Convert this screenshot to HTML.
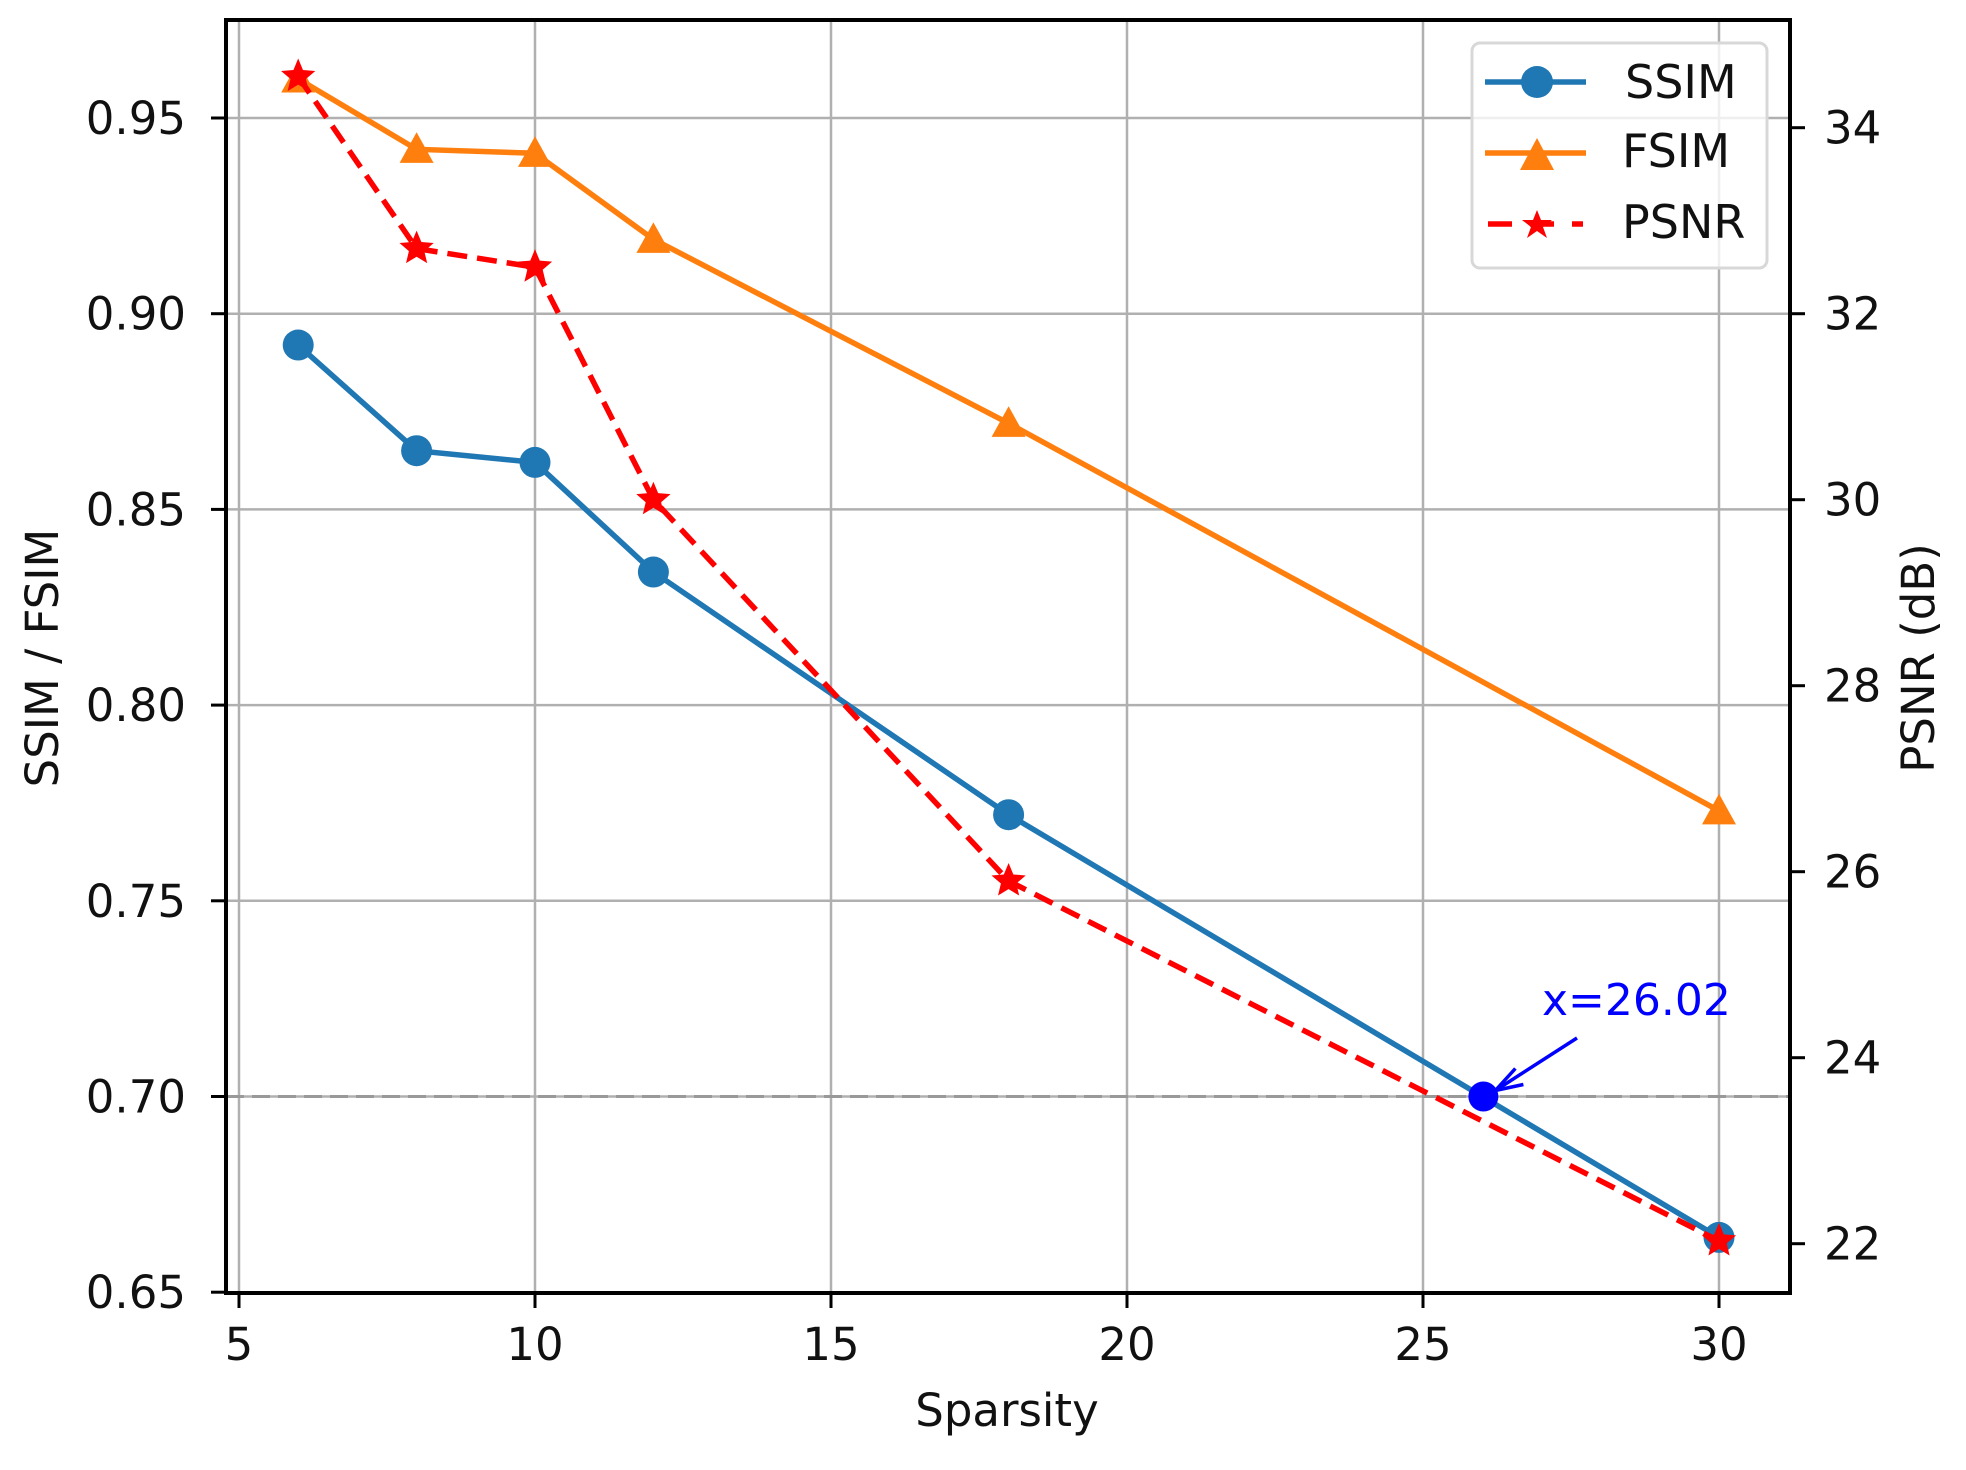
<!DOCTYPE html>
<html><head><meta charset="utf-8">
<style>html,body{margin:0;padding:0;background:#fff}svg{display:block}text{font-family:"DejaVu Sans","Liberation Sans",sans-serif;fill:#111}</style>
</head><body>
<svg id="chart" width="1966" height="1470" viewBox="0 0 1966 1470"></svg>
<script>
const xs = [6, 8, 10, 12, 18, 30];
const ssim = [0.892, 0.865, 0.862, 0.834, 0.772, 0.664];
const fsim = [0.960, 0.942, 0.941, 0.919, 0.872, 0.773];
const psnr = [34.55, 32.7, 32.5, 30.0, 25.9, 22.03];
const xTicks = [5, 10, 15, 20, 25, 30];
const yTicks = [0.65, 0.70, 0.75, 0.80, 0.85, 0.90, 0.95];
const y2Ticks = [22, 24, 26, 28, 30, 32, 34];
const markX = [26.02];
const markY = [0.70];
const threshold = [0.70];

const L=226,T=20,R=1790,B=1293;
const sx=v=>239+(v-5)*59.2;
const sy=v=>118+(0.95-v)/0.05*195.7;
const sy2=v=>127.7+(34-v)*93;
const NS="http://www.w3.org/2000/svg";
const svg=document.getElementById('chart');
function mk(tag,attrs,parent){const e=document.createElementNS(NS,tag);for(const k in attrs)e.setAttribute(k,attrs[k]);(parent||svg).appendChild(e);return e;}

const grid=mk('g',{});


xTicks.forEach(t=>{mk('line',{x1:sx(t),x2:sx(t),y1:T,y2:B,stroke:'#b0b0b0','stroke-width':2.5},grid);});
yTicks.forEach(t=>{mk('line',{x1:L,x2:R,y1:sy(t),y2:sy(t),stroke:'#b0b0b0','stroke-width':2.5},grid);});

const th=mk('line',{x1:L,x2:R,y1:sy(threshold[0]),y2:sy(threshold[0]),stroke:'#999','stroke-width':3,'stroke-dasharray':'18 8'});



function series(vals,ysc,color,dash,name){
  const pts=xs.map((x,i)=>sx(x)+','+ysc(vals[i])).join(' ');
  const p=mk('polyline',{points:pts,fill:'none',stroke:color,'stroke-width':5.5,'stroke-dasharray':dash||'none'});
  
  
}
function star(cx,cy,r){let s='';for(let i=0;i<10;i++){const a=-Math.PI/2+i*Math.PI/5;const rr=i%2?r*0.45:r;s+=(cx+rr*Math.cos(a))+','+(cy+rr*Math.sin(a))+' ';}return s;}
function tri(cx,cy,r){return `${cx},${cy-r} ${cx-r},${cy+r*0.8} ${cx+r},${cy+r*0.8}`;}

series(fsim,sy,'#ff7f0e',null,'fsim');
xs.forEach((x,i)=>{const m=mk('polygon',{points:tri(sx(x),sy(fsim[i]),17),fill:'#ff7f0e'});

});
series(ssim,sy,'#1f77b4',null,'ssim');
xs.forEach((x,i)=>{const m=mk('circle',{cx:sx(x),cy:sy(ssim[i]),r:15.5,fill:'#1f77b4'});

});
series(psnr,sy2,'#ff0000','20 10','psnr');
xs.forEach((x,i)=>{const m=mk('polygon',{points:star(sx(x),sy2(psnr[i]),18),fill:'#ff0000'});

});

const mkp=mk('circle',{cx:sx(markX[0]),cy:sy(markY[0]),r:15,fill:'#0000ff'});


const ar=mk('g',{});


mk('line',{x1:1577,y1:1038,x2:sx(markX[0])+12,y2:sy(markY[0])-6,stroke:'#0000ff','stroke-width':3.5},ar);
mk('polyline',{points:`${sx(markX[0])+32},${sy(markY[0])-28} ${sx(markX[0])+12},${sy(markY[0])-6} ${sx(markX[0])+40},${sy(markY[0])-12}`,fill:'none',stroke:'#0000ff','stroke-width':3.5},ar);
const at=mk('text',{x:1542,y:1015,'font-size':44,style:'fill:#0000ff'});
at.textContent='x=26.02';



const fr=mk('rect',{x:L,y:T,width:R-L,height:B-T,fill:'none',stroke:'#000','stroke-width':4});



const ax=mk('g',{});


xTicks.forEach(t=>{mk('line',{x1:sx(t),x2:sx(t),y1:B,y2:B+15,stroke:'#000','stroke-width':3},ax);
const tx=mk('text',{x:sx(t),y:1360,'font-size':45,'text-anchor':'middle'},ax);tx.textContent=t;});
const ay=mk('g',{});


yTicks.forEach(t=>{mk('line',{x1:L-15,x2:L,y1:sy(t),y2:sy(t),stroke:'#000','stroke-width':3},ay);
const tx=mk('text',{x:186,y:sy(t)+16,'font-size':45,'text-anchor':'end'},ay);tx.textContent=t.toFixed(2);});
const ay2=mk('g',{});


y2Ticks.forEach(t=>{mk('line',{x1:R,x2:R+15,y1:sy2(t),y2:sy2(t),stroke:'#000','stroke-width':3},ay2);
const tx=mk('text',{x:1824,y:sy2(t)+16,'font-size':45},ay2);tx.textContent=t;});
</script>
<div style="position:absolute;left:0;top:0;width:1966px;height:1470px;pointer-events:none">
<svg width="1966" height="1470">
<text x="1007" y="1426" font-size="45" text-anchor="middle">Sparsity</text>
<text transform="translate(58,658) rotate(-90)" font-size="45" text-anchor="middle">SSIM / FSIM</text>
<text transform="translate(1934,658) rotate(-90)" font-size="45" text-anchor="middle">PSNR (dB)</text>
<g>
<rect x="1472" y="43" width="295" height="225" rx="8" fill="rgba(255,255,255,0.8)" stroke="#d8d8d8" stroke-width="3"/>
<g><line x1="1485" x2="1586" y1="82" y2="82" stroke="#1f77b4" stroke-width="5.5"/><circle cx="1537" cy="82" r="16" fill="#1f77b4"/><text x="1625" y="98" font-size="46">SSIM</text></g>
<g><line x1="1485" x2="1586" y1="153" y2="153" stroke="#ff7f0e" stroke-width="5.5"/><polygon points="1537,138 1520,170 1554,170" fill="#ff7f0e"/><text x="1622" y="167" font-size="46">FSIM</text></g>
<g><line x1="1488" x2="1583" y1="224" y2="224" stroke="#ff0000" stroke-width="5.5" stroke-dasharray="24 18"/><polygon points="1537,210 1541,220 1552,220 1543,227 1547,238 1537,231 1527,238 1531,227 1522,220 1533,220" fill="#ff0000"/><text x="1622" y="238" font-size="46">PSNR</text></g>
</g>
</svg></div>
</body></html>
